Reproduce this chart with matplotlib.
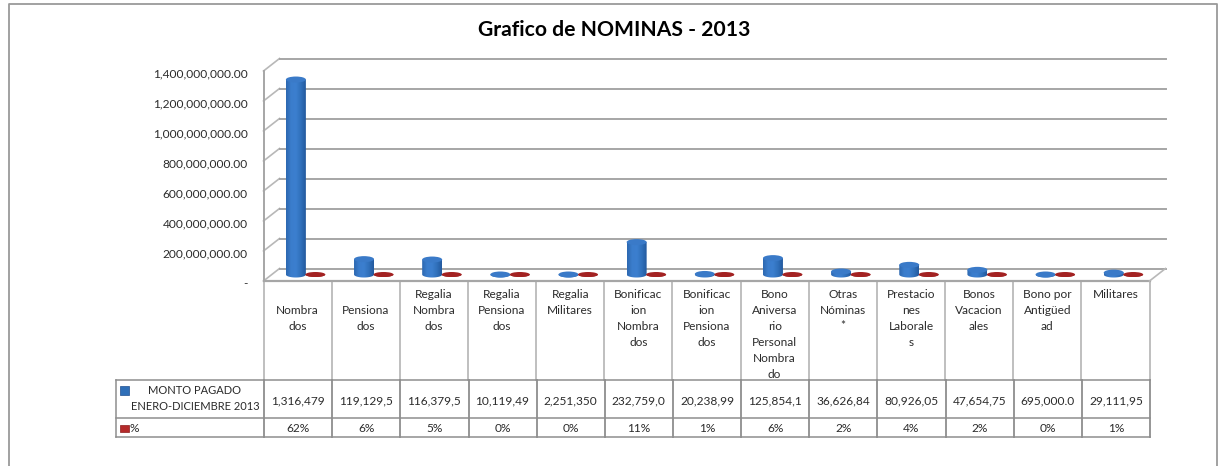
import numpy as np
import matplotlib
matplotlib.use("Agg")
import matplotlib.pyplot as plt
from matplotlib.patches import Ellipse, PathPatch, Rectangle
from matplotlib.path import Path
from matplotlib.colors import LinearSegmentedColormap
from matplotlib.transforms import ScaledTranslation

plt.rcParams['font.family'] = ['Lato', 'DejaVu Sans']

title = "Grafico de NOMINAS - 2013"
categories = ["\nNombra\ndos", "\nPensiona\ndos", "Regalia\nNombra\ndos", "Regalia\nPensiona\ndos",
              "Regalia\nMilitares", "Bonificac\nion\nNombra\ndos", "Bonificac\nion\nPensiona\ndos",
              "Bono\nAniversa\nrio\nPersonal\nNombra\ndo", "Otras\nNóminas\n*",
              "Prestacio\nnes\nLaborale\ns", "Bonos\nVacacion\nales", "Bono por\nAntigüed\nad", "Militares"]
monto = [1316479000, 119129500, 116379500, 10119490, 2251350, 232759000, 20238990,
         125854100, 36626840, 80926050, 47654750, 695000, 29111950]
pct = [0.62, 0.06, 0.05, 0.0, 0.0, 0.11, 0.01, 0.06, 0.02, 0.04, 0.02, 0.0, 0.01]
monto_labels = ["1,316,479", "119,129,5", "116,379,5", "10,119,49", "2,251,350", "232,759,0", "20,238,99",
                "125,854,1", "36,626,84", "80,926,05", "47,654,75", "695,000.0", "29,111,95"]
pct_labels = ["62%", "6%", "5%", "0%", "0%", "11%", "1%", "6%", "2%", "4%", "2%", "0%", "1%"]
yticks = [0, 200e6, 400e6, 600e6, 800e6, 1000e6, 1200e6, 1400e6]
ylabels = ["-", "200,000,000.00", "400,000,000.00", "600,000,000.00", "800,000,000.00",
           "1,000,000,000.00", "1,200,000,000.00", "1,400,000,000.00"]
series1 = "MONTO PAGADO\nENERO-DICIEMBRE 2013"
series2 = "%"

W, H = 1220, 466
X0, X1 = 263.5, 1149.5
Y0, Y1 = 281.0, 71.0
TXT = '#2b2b2b'
GRID = '#a6a6a6'
TBL = '#8e8e8e'

fig = plt.figure(figsize=(W / 100, H / 100), dpi=100, facecolor='white')

# pixel overlay for frame and data table
pane = fig.add_axes([0, 0, 1, 1], zorder=0)
pane.set_xlim(0, W)
pane.set_ylim(H, 0)
pane.axis('off')
pane.plot([9, 9, 1217, 1217], [H, 4, 4, H], color='#9a9a9a', lw=1.3)
pane.text(614, 30, title, ha='center', va='center', fontsize=15.2, fontweight='bold', color='black')

n = len(categories)
cw = (X1 - X0) / n
Ytab, Yr1, Yr2 = 380, 417.5, 437
for i in range(n + 1):
    x = X0 + i * cw
    pane.plot([x, x], [Y0, Ytab], color='#b4b4b4', lw=1.2)
    pane.plot([x + .6, x + .6], [Ytab, Yr2], color=TBL, lw=1.3)
pane.plot([116, 116], [Ytab, Yr2], color=TBL, lw=1.1)
for yy in (Ytab, Yr1, Yr2):
    pane.plot([116, X1 + .6], [yy, yy], color=TBL, lw=1.1)

FS = 8.6
for i in range(n):
    cx = X0 + (i + .5) * cw
    for k, line in enumerate(categories[i].split("\n")):
        if line:
            pane.text(cx, 294 + 16 * k, line, ha='center', va='center', fontsize=FS, color=TXT)
    pane.text(cx + .5, 400.5, monto_labels[i], ha='center', va='center', fontsize=FS, color=TXT)
    pane.text(cx + .5, 428, pct_labels[i], ha='center', va='center', fontsize=FS, color=TXT)
l1, l2 = series1.split("\n")
pane.text(195, 391, l1, ha='center', va='center', fontsize=8.05, color=TXT)
pane.text(195, 407, l2, ha='center', va='center', fontsize=8.05, color=TXT)
pane.text(130, 428, series2, ha='left', va='center', fontsize=FS, color=TXT)
pane.add_patch(Rectangle((120, 386), 8.5, 8.5, fc='#2f6fb8', ec='#1f4f8f', lw=.5))
pane.add_patch(Rectangle((120, 425), 8.5, 6.5, fc='#b52a2a', ec='#8c1c1c', lw=.5))

# plot axes, aligned with the front plane of the 3-D box
ax = fig.add_axes([X0 / W, 1 - Y0 / H, (X1 - X0) / W, (Y0 - Y1) / H], zorder=1)
ax.patch.set_alpha(0)
ax.set_xlim(0, n)
ax.set_ylim(0, 1400e6)
for s in ('top', 'right', 'bottom'):
    ax.spines[s].set_visible(False)
ax.spines['left'].set_color(GRID)
ax.spines['left'].set_linewidth(1.4)
ax.set_xticks([])
ax.set_yticks(yticks)
ax.set_yticklabels(ylabels, fontsize=8.6, color=TXT)
ax.tick_params(axis='y', length=0, pad=11.5)
shift = ScaledTranslation(0, -1.5 / 100, fig.dpi_scale_trans)
for lab in ax.get_yticklabels():
    lab.set_transform(lab.get_transform() + shift)

px_x = 1 / cw
px_y = 1400e6 / (Y0 - Y1)
dx, dy = 16 * px_x, 12.5 * px_y
for v in yticks:
    ax.plot([0, dx], [v, v + dy], color='#b8b8b8', lw=1.2, clip_on=False, zorder=1)
    ax.plot([dx, n + dx], [v + dy, v + dy], color=GRID, lw=1.4, clip_on=False, zorder=1)
ax.plot([0, n], [0, 0], color=GRID, lw=1.6, clip_on=False, zorder=1)
ax.plot([n, n + dx], [0, dy], color='#b8b8b8', lw=1.2, clip_on=False, zorder=1)

# cylinders
blue = LinearSegmentedColormap.from_list('b', ['#2c68b0', '#3b7dcc', '#3c7fcf', '#3070bb', '#235a9e'])
red = LinearSegmentedColormap.from_list('r', ['#8c1c1c', '#a82424', '#8c1c1c'])
grad = np.linspace(0, 1, 64).reshape(1, -1)
bw = 20 * px_x
eh = 6 * px_y
base = 6.5 * px_y
lift = 4 * px_y


def cylinder(xc, value, cmap, top, eheight):
    y0 = base
    y1 = max(base, lift + value)
    t = np.linspace(np.pi, 2 * np.pi, 40)
    xs = xc + bw / 2 * np.cos(t)
    ys = y0 + eheight / 2 * np.sin(t)
    verts = np.vstack([np.column_stack([xs, ys]), [xc + bw / 2, y1], [xc - bw / 2, y1], [xs[0], ys[0]]])
    clip = PathPatch(Path(verts), transform=ax.transData, fc='none', ec='none')
    ax.add_patch(clip)
    im = ax.imshow(grad, cmap=cmap, extent=[xc - bw / 2, xc + bw / 2, y0 - eheight, y1],
                   aspect='auto', zorder=3, interpolation='bilinear')
    im.set_clip_path(clip)
    ax.add_patch(Ellipse((xc, y1), bw, eheight, fc=top, ec='none', zorder=4))


for i in range(n):
    xb = i + 0.475
    cylinder(xb, monto[i], blue, '#3a7ac8', eh)
    cylinder(xb + 19.5 * px_x, pct[i], red, '#a32222', 5 * px_y)

ax.set_xlim(0, n)
ax.set_ylim(0, 1400e6)
fig.savefig('out.png', dpi=100)
